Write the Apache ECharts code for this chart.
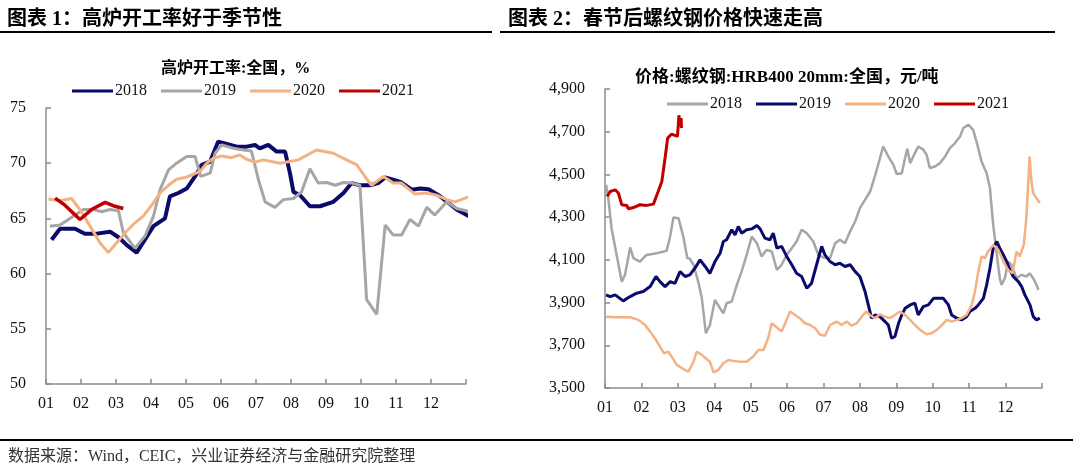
<!DOCTYPE html>
<html><head><meta charset="utf-8">
<script src="https://cdn.jsdelivr.net/npm/echarts@6/dist/echarts.min.js"></script>
<style>html,body{margin:0;padding:0;background:#fff}#c{width:1080px;height:465px}</style>
</head><body><div id="c"></div>
<script>
// ---- Titles / labels ----
const title1 = '图表 1：高炉开工率好于季节性';
const title2 = '图表 2：春节后螺纹钢价格快速走高';
const subtitle1 = '高炉开工率:全国，%';
const subtitle2 = '价格:螺纹钢:HRB400 20mm:全国，元/吨';
const sourceText = '数据来源：Wind，CEIC，兴业证券经济与金融研究院整理';
const monthLabels = ['01','02','03','04','05','06','07','08','09','10','11','12'];
const years = ['2018','2019','2020','2021'];

// ---- Left chart: blast furnace utilisation (%) — [month position, value] ----
const bf2018 = [[0.16,63.07],[0.40,64.07],[0.83,64.07],[1.11,63.6],[1.40,63.6],[1.83,63.8],[2.11,63.2],[2.3,62.6],[2.59,61.9],[2.83,63.1],[3.07,64.3],[3.40,65.0],[3.54,67.0],[3.78,67.3],[4.02,67.7],[4.26,68.8],[4.45,69.85],[4.69,70.15],[4.92,71.96],[5.11,71.8],[5.45,71.5],[5.73,71.5],[5.97,71.65],[6.11,71.35],[6.35,71.66],[6.59,71.05],[6.83,71.05],[6.97,69.1],[7.07,67.4],[7.26,67.1],[7.54,66.1],[7.83,66.1],[8.21,66.5],[8.5,67.3],[8.73,68.2],[8.97,68.0],[9.26,68.0],[9.49,68.2],[9.69,68.7],[9.92,68.5],[10.16,68.25],[10.45,67.6],[10.69,67.7],[10.93,67.65],[11.26,67.0],[11.54,66.3],[11.73,65.8],[12.02,65.3],[12.35,64.94]];
const bf2019 = [[0.11,64.28],[0.40,64.4],[0.78,65.2],[1.07,65.8],[1.35,65.8],[1.59,65.6],[1.83,65.8],[2.07,65.7],[2.21,63.7],[2.54,62.3],[2.83,63.4],[3.07,65.2],[3.26,67.6],[3.5,69.4],[3.73,70.0],[4.02,70.6],[4.26,70.6],[4.42,68.8],[4.69,69.1],[4.83,70.9],[5.02,71.66],[5.35,71.35],[5.64,71.2],[5.87,71.1],[6.07,68.5],[6.26,66.5],[6.54,66.0],[6.78,66.7],[7.07,66.8],[7.30,67.4],[7.54,69.5],[7.78,68.2],[8.02,68.25],[8.26,68.0],[8.5,68.25],[8.74,68.2],[8.97,68.0],[9.16,57.65],[9.45,56.3],[9.69,64.4],[9.92,63.5],[10.16,63.5],[10.4,64.9],[10.64,64.3],[10.88,66.0],[11.11,65.3],[11.45,66.5],[11.73,65.9],[12.0,65.7],[12.3,65.3]];
const bf2020 = [[0.07,66.75],[0.4,66.6],[0.73,66.8],[0.97,65.8],[1.26,64.3],[1.54,62.8],[1.78,61.9],[2.02,62.8],[2.26,63.7],[2.54,64.6],[2.78,65.2],[3.02,66.2],[3.26,67.3],[3.5,68.0],[3.73,68.55],[3.97,68.7],[4.21,69.0],[4.40,69.25],[4.59,70.0],[4.78,70.45],[5.02,70.66],[5.30,70.5],[5.54,70.75],[5.73,70.36],[5.97,70.1],[6.21,70.3],[6.69,70.0],[7.21,70.3],[7.73,71.2],[8.21,70.9],[8.59,70.3],[8.88,69.85],[9.11,68.8],[9.30,68.0],[9.64,68.8],[9.92,68.2],[10.16,68.2],[10.35,67.7],[10.54,67.2],[10.88,67.3],[11.16,67.1],[11.45,66.7],[11.69,66.5],[12.11,67.0],[12.45,67.6]];
const bf2021 = [[0.26,66.84],[0.54,66.2],[0.97,64.9],[1.30,65.8],[1.69,66.45],[1.97,66.1],[2.21,65.9]];

// ---- Right chart: rebar price (yuan/ton) — [month position, value] ----
const rb2018 = [[0.03,4452],[0.09,4389],[0.18,4248],[0.32,4123],[0.46,3998],[0.55,4030],[0.69,4158],[0.78,4108],[0.96,4092],[1.14,4123],[1.42,4131],[1.69,4142],[1.78,4202],[1.88,4298],[2.02,4295],[2.15,4209],[2.26,4108],[2.33,4105],[2.43,4077],[2.56,3998],[2.66,3920],[2.77,3756],[2.88,3795],[3.02,3912],[3.16,3873],[3.25,3850],[3.34,3897],[3.48,3905],[3.62,3983],[3.75,4045],[3.89,4123],[4.03,4209],[4.17,4178],[4.3,4116],[4.44,4147],[4.58,4139],[4.72,4053],[4.85,4077],[4.99,4123],[5.13,4155],[5.26,4186],[5.4,4241],[5.54,4225],[5.72,4186],[5.86,4123],[6.0,4110],[6.18,4108],[6.32,4178],[6.45,4194],[6.59,4178],[6.73,4233],[6.87,4280],[7.0,4342],[7.14,4381],[7.28,4420],[7.41,4491],[7.5,4545],[7.64,4631],[7.78,4584],[7.92,4545],[8.01,4502],[8.15,4506],[8.24,4577],[8.3,4620],[8.38,4553],[8.51,4600],[8.6,4631],[8.74,4616],[8.83,4592],[8.92,4530],[9.06,4537],[9.2,4553],[9.34,4584],[9.47,4623],[9.61,4647],[9.75,4678],[9.84,4717],[9.98,4733],[10.11,4709],[10.2,4655],[10.34,4561],[10.48,4506],[10.57,4436],[10.66,4264],[10.75,4139],[10.84,4014],[10.89,3983],[10.98,4014],[11.07,4092],[11.16,4077],[11.3,4014],[11.44,4030],[11.57,4022],[11.66,4037],[11.76,4014],[11.85,3983],[11.9,3959]];
const rb2019 = [[0.03,3936],[0.14,3928],[0.28,3936],[0.5,3908],[0.69,3928],[0.87,3944],[1.05,3952],[1.24,3975],[1.4,4022],[1.51,3998],[1.65,3975],[1.79,3998],[1.92,3990],[2.06,4045],[2.2,4022],[2.33,4030],[2.47,4061],[2.61,4100],[2.75,4069],[2.88,4037],[3.02,4092],[3.16,4131],[3.25,4186],[3.34,4194],[3.48,4241],[3.57,4217],[3.66,4256],[3.75,4225],[3.89,4241],[4.03,4245],[4.17,4261],[4.26,4245],[4.39,4202],[4.53,4194],[4.62,4225],[4.72,4155],[4.85,4163],[4.99,4116],[5.13,4077],[5.26,4037],[5.4,4022],[5.54,3967],[5.67,3990],[5.81,4077],[5.95,4163],[6.04,4123],[6.18,4092],[6.32,4077],[6.45,4084],[6.59,4069],[6.73,4077],[6.87,4045],[7.0,4022],[7.14,3952],[7.23,3889],[7.32,3827],[7.41,3842],[7.55,3834],[7.69,3811],[7.78,3795],[7.87,3733],[7.96,3741],[8.06,3803],[8.15,3842],[8.24,3873],[8.38,3889],[8.51,3897],[8.6,3842],[8.74,3881],[8.88,3889],[9.02,3920],[9.15,3920],[9.29,3920],[9.43,3889],[9.52,3842],[9.66,3827],[9.79,3819],[9.93,3834],[10.02,3858],[10.16,3873],[10.25,3889],[10.39,3920],[10.48,3983],[10.57,4061],[10.66,4155],[10.76,4186],[10.84,4155],[10.94,4123],[11.03,4092],[11.12,4053],[11.21,4022],[11.35,3998],[11.44,3975],[11.53,3936],[11.67,3889],[11.76,3834],[11.85,3819],[11.94,3827]];
const rb2020 = [[0.03,3834],[0.32,3831],[0.69,3831],[0.92,3819],[1.1,3795],[1.24,3764],[1.37,3733],[1.51,3694],[1.62,3662],[1.74,3670],[1.83,3647],[1.97,3608],[2.15,3589],[2.29,3577],[2.43,3623],[2.52,3670],[2.66,3655],[2.79,3636],[2.88,3623],[2.98,3573],[3.11,3584],[3.25,3616],[3.39,3631],[3.52,3627],[3.71,3623],[3.89,3623],[4.07,3647],[4.21,3678],[4.35,3678],[4.48,3733],[4.58,3803],[4.72,3783],[4.85,3764],[4.99,3819],[5.08,3858],[5.22,3842],[5.35,3827],[5.49,3803],[5.63,3795],[5.77,3780],[5.9,3750],[6.04,3745],[6.18,3795],[6.36,3811],[6.5,3795],[6.64,3811],[6.77,3792],[6.91,3803],[7.05,3834],[7.17,3858],[7.28,3842],[7.41,3827],[7.55,3845],[7.69,3834],[7.82,3827],[7.96,3842],[8.1,3858],[8.24,3842],[8.38,3819],[8.51,3795],[8.65,3772],[8.83,3752],[8.97,3756],[9.11,3772],[9.24,3792],[9.38,3819],[9.52,3811],[9.66,3819],[9.79,3827],[9.93,3842],[10.07,3889],[10.16,3952],[10.25,4045],[10.34,4116],[10.43,4108],[10.52,4139],[10.66,4170],[10.8,4147],[10.94,4092],[11.07,4053],[11.19,4037],[11.3,4139],[11.39,4116],[11.5,4170],[11.57,4295],[11.66,4584],[11.71,4467],[11.76,4412],[11.85,4389],[11.94,4366]];
const rb2021 = [[0.06,4397],[0.14,4420],[0.28,4428],[0.37,4412],[0.46,4358],[0.6,4355],[0.64,4339],[0.78,4345],[0.96,4358],[1.14,4355],[1.33,4361],[1.46,4420],[1.56,4467],[1.65,4577],[1.72,4670],[1.83,4689],[1.99,4678],[2.03,4777],[2.06,4725],[2.09,4764],[2.1,4717]];

const colors = {'2018L':'#0a0a6b','2019L':'#a6a6a6','2020L':'#f4b183','2021L':'#c00000',
                '2018R':'#a6a6a6','2019R':'#0a0a6b','2020R':'#f4b183','2021R':'#c00000'};

const serif = '"Liberation Serif", "Noto Sans CJK SC", serif';
const cjk = '"Liberation Serif", "Noto Sans CJK SC", sans-serif';
const axisColor = '#8c8c8c';

function xAxis(gi){
  return {type:'value', gridIndex:gi, min:0, max:12, interval:1,
    axisLine:{show:true, lineStyle:{color:axisColor, width:1.5}},
    axisTick:{show:true, inside:true, length:5, lineStyle:{color:axisColor, width:1.5}},
    axisLabel:{margin:12, fontFamily:serif, fontSize:16, color:'#111',
      formatter:v => v < 12 ? monthLabels[v] : ''},
    splitLine:{show:false}};
}
function yAxis(gi, min, max, interval, fmt){
  return {type:'value', gridIndex:gi, min, max, interval,
    axisLine:{show:true, lineStyle:{color:axisColor, width:1.5}},
    axisTick:{show:true, inside:true, length:5, lineStyle:{color:axisColor, width:1.5}},
    axisLabel:{margin:20, fontFamily:serif, fontSize:16, color:'#111', formatter:fmt},
    splitLine:{show:false}};
}
function line(name, data, gi, width, key){
  return {type:'line', name, data, xAxisIndex:gi, yAxisIndex:gi, showSymbol:false,
    clip:false, smooth:false, lineStyle:{color:colors[key], width},
    itemStyle:{color:colors[key]}};
}

const series = [
  line('L2018', bf2018, 0, 4, '2018L'),
  line('L2019', bf2019, 0, 3, '2019L'),
  line('L2020', bf2020, 0, 3, '2020L'),
  line('L2021', bf2021, 0, 3.5, '2021L'),
  line('R2018', rb2018, 1, 2.5, '2018R'),
  line('R2019', rb2019, 1, 3, '2019R'),
  line('R2020', rb2020, 1, 2.5, '2020R'),
  line('R2021', rb2021, 1, 3, '2021R')
];

function legend(prefix, left, top){
  return {left, top, orient:'horizontal', itemWidth:41, itemHeight:3, itemGap:14,
    icon:'rect', data: years.map(y => prefix + y),
    formatter: n => n.slice(1),
    textStyle:{fontFamily:serif, fontSize:16, color:'#111', padding:[0,0,0,-3]}};
}

const chart = echarts.init(document.getElementById('c'), null, {renderer:'canvas'});
chart.setOption({
  animation:false,
  backgroundColor:'#fff',
  grid:[
    {left:46, top:108, width:420, height:276},
    {left:605, top:89, width:437, height:299}
  ],
  xAxis:[xAxis(0), xAxis(1)],
  yAxis:[
    yAxis(0, 50, 75, 5, v => String(v)),
    yAxis(1, 3500, 4900, 200, v => v.toLocaleString('en-US'))
  ],
  legend:[legend('L', 67, 78), legend('R', 662, 91)],
  title:[
    {text:title1, left:2, top:5, textStyle:{fontFamily:cjk, fontSize:20, fontWeight:'bold', color:'#000'}},
    {text:title2, left:503, top:5, textStyle:{fontFamily:cjk, fontSize:20, fontWeight:'bold', color:'#000'}},
    {text:subtitle1, left:156, top:56, textStyle:{fontFamily:cjk, fontSize:16, fontWeight:'bold', color:'#000'}},
    {text:subtitle2, left:630, top:64, textStyle:{fontFamily:cjk, fontSize:17, fontWeight:'bold', color:'#000'}},
    {text:sourceText, left:3, top:444, textStyle:{fontFamily:cjk, fontSize:16, fontWeight:'normal', color:'#333'}}
  ],
  graphic:[
    {type:'line', shape:{x1:0, y1:32, x2:492, y2:32}, style:{stroke:'#000', lineWidth:2}},
    {type:'line', shape:{x1:500, y1:32, x2:1055, y2:32}, style:{stroke:'#000', lineWidth:2}},
    {type:'line', shape:{x1:0, y1:440, x2:1073, y2:440}, style:{stroke:'#000', lineWidth:2}}
  ],
  series
});
</script></body></html>
